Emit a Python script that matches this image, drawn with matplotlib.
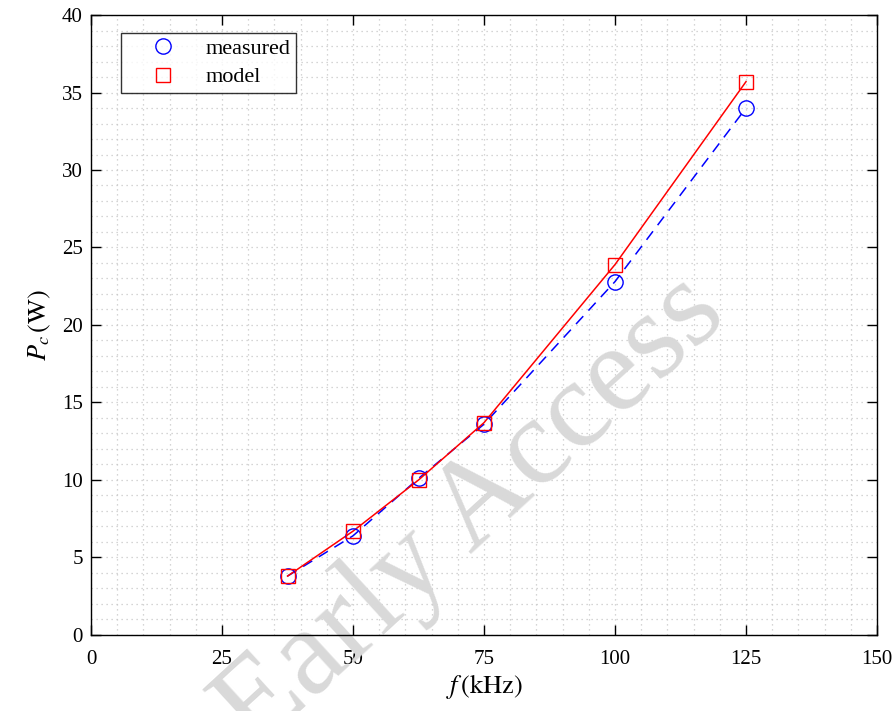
import matplotlib
matplotlib.use("Agg")
import matplotlib.pyplot as plt
from matplotlib.ticker import MultipleLocator

plt.rcParams['font.family'] = ['Liberation Serif', 'DejaVu Serif']
plt.rcParams['mathtext.fontset'] = 'stix'

freq_khz = [37.5, 50, 62.5, 75, 100, 125]
measured = [3.8, 6.4, 10.1, 13.6, 22.8, 34.0]
model = [3.8, 6.7, 10.0, 13.7, 23.9, 35.7]
x_ticks = [0, 25, 50, 75, 100, 125, 150]
y_ticks = [0, 5, 10, 15, 20, 25, 30, 35, 40]

fig = plt.figure(figsize=(8.96, 7.11), dpi=100)
ax = fig.add_axes([0.1016, 0.1069, 0.8772, 0.872])

ax.plot(freq_khz, measured, color='blue', lw=1.1, linestyle=(0, (7, 5)), zorder=3)
ax.plot(freq_khz, model, color='red', lw=1.1, linestyle='-', zorder=3)
ax.plot(freq_khz, measured, linestyle='none', marker='o', ms=11, mfc='none',
        mec='blue', mew=1.0, label='measured', zorder=4)
ax.plot(freq_khz, model, linestyle='none', marker='s', ms=9.5, mfc='none',
        mec='red', mew=1.0, label='model', zorder=4)

ax.set_xlim(0, 150)
ax.set_ylim(0, 40)
ax.set_xticks(x_ticks)
ax.set_yticks(y_ticks)
ax.xaxis.set_minor_locator(MultipleLocator(5))
ax.yaxis.set_minor_locator(MultipleLocator(1))
ax.grid(which='both', color='#c8c8c8', linestyle=(0, (1, 3)), lw=0.9)
ax.set_axisbelow(True)
ax.tick_params(which='major', direction='in', top=True, right=True, length=7,
               width=1, labelsize=15, colors='black')
ax.tick_params(axis='x', which='major', pad=11)
ax.tick_params(axis='y', which='major', pad=6)
ax.tick_params(which='minor', length=0, top=True, right=True)
for s in ax.spines.values():
    s.set_linewidth(1.0)
    s.set_color('black')

ax.set_xlabel(r'$f\,\mathrm{(kHz)}$', fontsize=19, labelpad=2)
ax.set_ylabel(r'$P_c\,\mathrm{(W)}$', fontsize=19, labelpad=6)

leg = ax.legend(loc='upper left', bbox_to_anchor=(0.038, 0.971), fontsize=16,
                frameon=True, fancybox=False, edgecolor='black',
                borderaxespad=0, handletextpad=0.25, borderpad=0.25,
                labelspacing=0.35, handlelength=3.3)
leg.get_frame().set_linewidth(1.0)

ax.text(0.527, 0.2785, 'Early Access', transform=fig.transFigure, fontsize=89,
        rotation=42.5, color='#d9d9d9', ha='center', va='center',
        clip_on=False, zorder=1.5)

fig.savefig('out.png', dpi=100)
